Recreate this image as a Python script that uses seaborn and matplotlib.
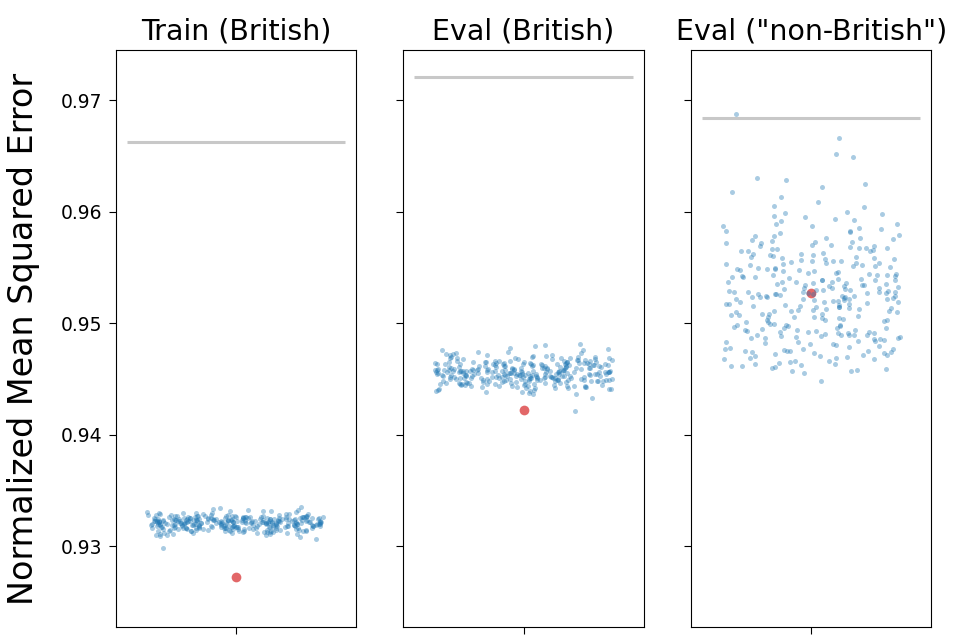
import numpy as np
import pandas as pd
import seaborn as sns
import matplotlib
matplotlib.use("Agg")
import matplotlib.pyplot as plt

# panel titles
titles = ['Train (British)', 'Eval (British)', 'Eval ("non-British")']

# NMSE of the shuffled / baseline runs (blue cloud)
train_british = [
    0.93215, 0.93188, 0.93242, 0.93171, 0.93226, 0.93259, 0.93134, 0.93207, 0.93281, 0.93196,
    0.93163, 0.93238, 0.93219, 0.93302, 0.93147, 0.93224, 0.93191, 0.93267, 0.93118, 0.93209,
    0.93233, 0.93176, 0.93254, 0.93201, 0.93139, 0.93288, 0.93212, 0.93169, 0.93246, 0.93183,
    0.93227, 0.93104, 0.93271, 0.93198, 0.93235, 0.93157, 0.93314, 0.93205, 0.93179, 0.93249,
    0.93221, 0.93142, 0.93263, 0.93194, 0.93231, 0.93086, 0.93217, 0.93276, 0.93166, 0.93239,
    0.93203, 0.93297, 0.93152, 0.93228, 0.93185, 0.93256, 0.93127, 0.93214, 0.93243, 0.93174,
    0.93337, 0.93199, 0.93222, 0.93161, 0.93268, 0.93208, 0.93136, 0.93251, 0.93187, 0.93229,
    0.93112, 0.93273, 0.93196, 0.93236, 0.93155, 0.93218, 0.93292, 0.93181, 0.93244, 0.93206,
    0.93148, 0.93261, 0.93224, 0.93069, 0.93213, 0.93253, 0.93172, 0.93237, 0.93195, 0.93308,
    0.93164, 0.93226, 0.93202, 0.93279, 0.93131, 0.93215, 0.93247, 0.93178, 0.93232, 0.93189,
    0.93211, 0.93143, 0.93265, 0.93197, 0.93324, 0.93159, 0.93234, 0.93186, 0.93257, 0.93121,
    0.93219, 0.93284, 0.93168, 0.93241, 0.93204, 0.93138, 0.93262, 0.93193, 0.93228, 0.93098,
    0.93252, 0.93182, 0.93216, 0.93274, 0.93151, 0.93239, 0.93201, 0.93165, 0.93296, 0.93223,
    0.93177, 0.93245, 0.93129, 0.93209, 0.93268, 0.93192, 0.93231, 0.93146, 0.93258, 0.93214,
    0.93352, 0.93184, 0.93226, 0.93173, 0.93249, 0.93115, 0.93207, 0.93282, 0.93198, 0.93236,
    0.93156, 0.93221, 0.93263, 0.93189, 0.93134, 0.93243, 0.93212, 0.93301, 0.93167, 0.93229,
    0.93195, 0.93254, 0.93141, 0.93218, 0.93272, 0.93179, 0.93233, 0.92985, 0.93205, 0.93247,
    0.93162, 0.93287, 0.93224, 0.93187, 0.93259, 0.93123, 0.93214, 0.93238, 0.93171, 0.93266,
    0.93203, 0.93149, 0.93241, 0.93196, 0.93319, 0.93158, 0.93227, 0.93183, 0.93251, 0.93209,
    0.93137, 0.93276, 0.93219, 0.93175, 0.93234, 0.93092, 0.93246, 0.93199, 0.93261, 0.93168,
    0.93228, 0.93174, 0.93256, 0.93191, 0.93213, 0.93141, 0.93269, 0.93207, 0.93183, 0.93244,
    0.93119, 0.93235, 0.93198, 0.93289, 0.93162, 0.93221, 0.93252, 0.93177, 0.93309, 0.93204,
    0.93146, 0.93238, 0.93216, 0.93186, 0.93264, 0.93128, 0.93211, 0.93247, 0.93169, 0.93232,
    0.93194, 0.93278, 0.93153, 0.93225, 0.93201, 0.93342, 0.93181, 0.93239, 0.93108, 0.93218,
    0.93257, 0.93166, 0.93231, 0.93193, 0.93284, 0.93137, 0.93209, 0.93245, 0.93174, 0.93262,
    0.93219, 0.93155, 0.93236, 0.93197, 0.93316, 0.93143, 0.93227, 0.93188, 0.93253, 0.93211,
    0.93132, 0.93271, 0.93206, 0.93179, 0.93242, 0.93101, 0.93224, 0.93259, 0.93167, 0.93234,
    0.93192, 0.93294, 0.93149, 0.93217, 0.93248, 0.93176, 0.93229, 0.93124, 0.93266, 0.93203,
    0.93161, 0.93237, 0.93213, 0.93185, 0.93274, 0.93139, 0.93222, 0.93251, 0.93172, 0.93329,
    0.93199, 0.93243, 0.93157, 0.93216, 0.93263, 0.93114, 0.93231, 0.93189, 0.93254, 0.93208,
]

eval_british = [
    0.94562, 0.94518, 0.94603, 0.94487, 0.94571, 0.94639, 0.94452, 0.94548, 0.94684, 0.94531,
    0.94495, 0.94597, 0.94556, 0.94721, 0.94468, 0.94579, 0.94524, 0.94652, 0.94418, 0.94543,
    0.94588, 0.94501, 0.94627, 0.94539, 0.94441, 0.94703, 0.94566, 0.94489, 0.94612, 0.94513,
    0.94575, 0.94397, 0.94667, 0.94529, 0.94594, 0.94473, 0.94758, 0.94552, 0.94506, 0.94631,
    0.94569, 0.94447, 0.94648, 0.94521, 0.94583, 0.94362, 0.94558, 0.94691, 0.94484, 0.94605,
    0.94537, 0.94732, 0.94461, 0.94577, 0.94509, 0.94641, 0.94429, 0.94561, 0.94616, 0.94498,
    0.94812, 0.94527, 0.94573, 0.94478, 0.94662, 0.94546, 0.94436, 0.94635, 0.94515, 0.94582,
    0.94408, 0.94676, 0.94532, 0.94599, 0.94465, 0.94564, 0.94713, 0.94503, 0.94622, 0.94541,
    0.94456, 0.94655, 0.94578, 0.94331, 0.94559, 0.94638, 0.94492, 0.94601, 0.94526, 0.94746,
    0.94481, 0.94574, 0.94535, 0.94688, 0.94433, 0.94562, 0.94619, 0.94507, 0.94591, 0.94519,
    0.94557, 0.94449, 0.94651, 0.94528, 0.94779, 0.94471, 0.94596, 0.94512, 0.94643, 0.94414,
    0.94567, 0.94697, 0.94486, 0.94614, 0.94544, 0.94439, 0.94658, 0.94523, 0.94581, 0.94385,
    0.94637, 0.94505, 0.94563, 0.94679, 0.94458, 0.94608, 0.94538, 0.94482, 0.94727, 0.94572,
    0.94497, 0.94624, 0.94426, 0.94549, 0.94665, 0.94517, 0.94586, 0.94451, 0.94644, 0.94561,
    0.94801, 0.94511, 0.94576, 0.94494, 0.94628, 0.94403, 0.94547, 0.94694, 0.94525, 0.94603,
    0.94467, 0.94568, 0.94653, 0.94514, 0.94437, 0.94631, 0.94559, 0.94736, 0.94485, 0.94589,
    0.94533, 0.94641, 0.94444, 0.94565, 0.94673, 0.94502, 0.94592, 0.94212, 0.94548, 0.94633,
    0.94476, 0.94702, 0.94578, 0.94516, 0.94647, 0.94421, 0.94562, 0.94606, 0.94491, 0.94661,
    0.94539, 0.94455, 0.94627, 0.94522, 0.94764, 0.94469, 0.94584, 0.94508, 0.94639, 0.94553,
    0.94432, 0.94683, 0.94571, 0.94499, 0.94598, 0.94378, 0.94619, 0.94529, 0.94656, 0.94487,
    0.94574, 0.94496, 0.94618, 0.94537, 0.94452, 0.94663, 0.94542, 0.94511, 0.94636, 0.94483,
    0.94589, 0.94423, 0.94701, 0.94556, 0.94478, 0.94612, 0.94529, 0.94742, 0.94463, 0.94571,
    0.94504, 0.94649, 0.94416, 0.94565, 0.94685, 0.94518, 0.94597, 0.94446, 0.94629, 0.94552,
    0.94387, 0.94672, 0.94539, 0.94582, 0.94474, 0.94613, 0.94548, 0.94772, 0.94491, 0.94568,
    0.94526, 0.94654, 0.94438, 0.94579, 0.94692, 0.94506, 0.94603, 0.94459, 0.94637, 0.94543,
    0.94415, 0.94688, 0.94563, 0.94521, 0.94642, 0.94397, 0.94585, 0.94617, 0.94488, 0.94719,
    0.94547, 0.94466, 0.94626, 0.94532, 0.94794, 0.94479, 0.94592, 0.94513, 0.94658, 0.94558,
    0.94441, 0.94677, 0.94576, 0.94501, 0.94609, 0.94369, 0.94634, 0.94536, 0.94669, 0.94492,
    0.94566, 0.94427, 0.94646, 0.94519, 0.94711, 0.94462, 0.94587, 0.94524, 0.94639, 0.94551,
    0.94448, 0.94696, 0.94569, 0.94508, 0.94621, 0.94404, 0.94598, 0.94545, 0.94654, 0.94479,
]

eval_non_british = [
    0.95231, 0.94872, 0.95614, 0.95083, 0.95392, 0.94715, 0.95847, 0.95176, 0.94958, 0.95503,
    0.95269, 0.94631, 0.95728, 0.95012, 0.95437, 0.94896, 0.96052, 0.95318, 0.94784, 0.95561,
    0.95142, 0.95689, 0.94923, 0.95357, 0.94553, 0.95824, 0.95207, 0.94981, 0.95476, 0.95034,
    0.96287, 0.95294, 0.94752, 0.95648, 0.95119, 0.94897, 0.95412, 0.95763, 0.94681, 0.95248,
    0.95536, 0.94819, 0.95187, 0.95912, 0.94942, 0.95374, 0.95061, 0.94598, 0.95693, 0.95283,
    0.94867, 0.95452, 0.95158, 0.96134, 0.94736, 0.95327, 0.95594, 0.94995, 0.95216, 0.95781,
    0.94659, 0.95403, 0.95097, 0.95874, 0.94912, 0.95262, 0.95518, 0.94803, 0.95673, 0.95131,
    0.96876, 0.95346, 0.94762, 0.95587, 0.95043, 0.95489, 0.94938, 0.96218, 0.95221, 0.94687,
    0.95622, 0.95174, 0.94851, 0.95431, 0.95739, 0.94619, 0.95302, 0.95018, 0.95956, 0.95268,
    0.94887, 0.95547, 0.95109, 0.94724, 0.95384, 0.95807, 0.94969, 0.95237, 0.95661, 0.94571,
    0.95418, 0.95074, 0.96661, 0.94832, 0.95289, 0.95533, 0.94917, 0.95716, 0.95152, 0.94771,
    0.95361, 0.95988, 0.94643, 0.95247, 0.95579, 0.95026, 0.94859, 0.95464, 0.95196, 0.96305,
    0.94748, 0.95338, 0.95631, 0.94986, 0.95213, 0.95852, 0.94694, 0.95397, 0.95087, 0.95524,
    0.94904, 0.95276, 0.95742, 0.94817, 0.95443, 0.95125, 0.94607, 0.95684, 0.95259, 0.96521,
    0.94876, 0.95372, 0.95058, 0.95611, 0.94729, 0.95219, 0.95893, 0.94953, 0.95482, 0.95164,
    0.94663, 0.95316, 0.95597, 0.94894, 0.96083, 0.95241, 0.94782, 0.95509, 0.95138, 0.95764,
    0.94927, 0.95353, 0.94484, 0.95668, 0.95201, 0.94845, 0.95426, 0.95079, 0.95936, 0.94717,
    0.95292, 0.95555, 0.96492, 0.94973, 0.95386, 0.95149, 0.94636, 0.95703, 0.95234, 0.94862,
    0.95468, 0.95827, 0.94754, 0.95309, 0.95046, 0.96172, 0.94911, 0.95583, 0.95184, 0.94689,
    0.95367, 0.95648, 0.94828, 0.95253, 0.95999, 0.94942, 0.95497, 0.95112, 0.94576, 0.95284,
    0.95258, 0.94891, 0.95572, 0.95104, 0.95347, 0.94742, 0.95815, 0.95193, 0.94976, 0.95486,
    0.95279, 0.94652, 0.95705, 0.95027, 0.95419, 0.94881, 0.95963, 0.95331, 0.94796, 0.95543,
    0.95167, 0.95656, 0.94931, 0.95371, 0.94584, 0.95786, 0.95224, 0.94993, 0.95458, 0.95052,
    0.96041, 0.95306, 0.94767, 0.95623, 0.95136, 0.94909, 0.95429, 0.95732, 0.94702, 0.95265,
    0.95514, 0.94838, 0.95204, 0.95869, 0.94958, 0.95389, 0.95073, 0.94621, 0.95677, 0.95296,
    0.94882, 0.95476, 0.95171, 0.96249, 0.94749, 0.95341, 0.95568, 0.95008, 0.95229, 0.95755,
    0.94676, 0.95415, 0.95114, 0.95891, 0.94925, 0.95273, 0.95527, 0.94816, 0.95646, 0.95148,
    0.95354, 0.94773, 0.95561, 0.95059, 0.95498, 0.94947, 0.95924, 0.95238, 0.94703, 0.95607,
    0.95187, 0.94864, 0.95447, 0.95718, 0.94628, 0.95314, 0.95031, 0.95978, 0.95281, 0.94899,
    0.95539, 0.95121, 0.94739, 0.95398, 0.95794, 0.94982, 0.95246, 0.95675, 0.94589, 0.95436,
]

# grey reference level and red model score per panel
baseline = [0.96626, 0.97206, 0.96839]
model_score = [0.92724, 0.94226, 0.95273]

clouds = [train_british, eval_british, eval_non_british]

np.random.seed(3)

fig, axes = plt.subplots(1, 3, figsize=(9.65, 6.44), dpi=100, sharey=True)
plt.subplots_adjust(left=0.120, right=0.965, top=0.922, bottom=0.026, wspace=0.198)

for i, ax in enumerate(axes):
    df = pd.DataFrame({'nmse': clouds[i]})
    # red model score first so the cloud sits on top of it
    sns.stripplot(y=[model_score[i]], ax=ax, size=7, color='#d62728',
                  alpha=0.7, linewidth=0)
    sns.stripplot(data=df, y='nmse', ax=ax, jitter=0.37, size=3.6,
                  color='#1f77b4', alpha=0.38, linewidth=0)
    ax.hlines(baseline[i], -0.455, 0.455, color='#c8c8c8', linewidth=2.2, zorder=0)
    ax.set_xlim(-0.5, 0.5)
    ax.set_xticks([0])
    ax.set_xticklabels([''])
    ax.set_title(titles[i], fontsize=20.5, pad=8)
    ax.set_ylabel('')
    ax.tick_params(axis='both', labelsize=13.5, length=5, pad=5)

axes[0].set_ylim(0.92275, 0.97447)
axes[0].set_yticks([0.93, 0.94, 0.95, 0.96, 0.97])
axes[0].set_ylabel('Normalized Mean Squared Error', fontsize=24)
axes[0].yaxis.set_label_coords(-0.317, 0.5)

plt.savefig('out.png', dpi=100)
